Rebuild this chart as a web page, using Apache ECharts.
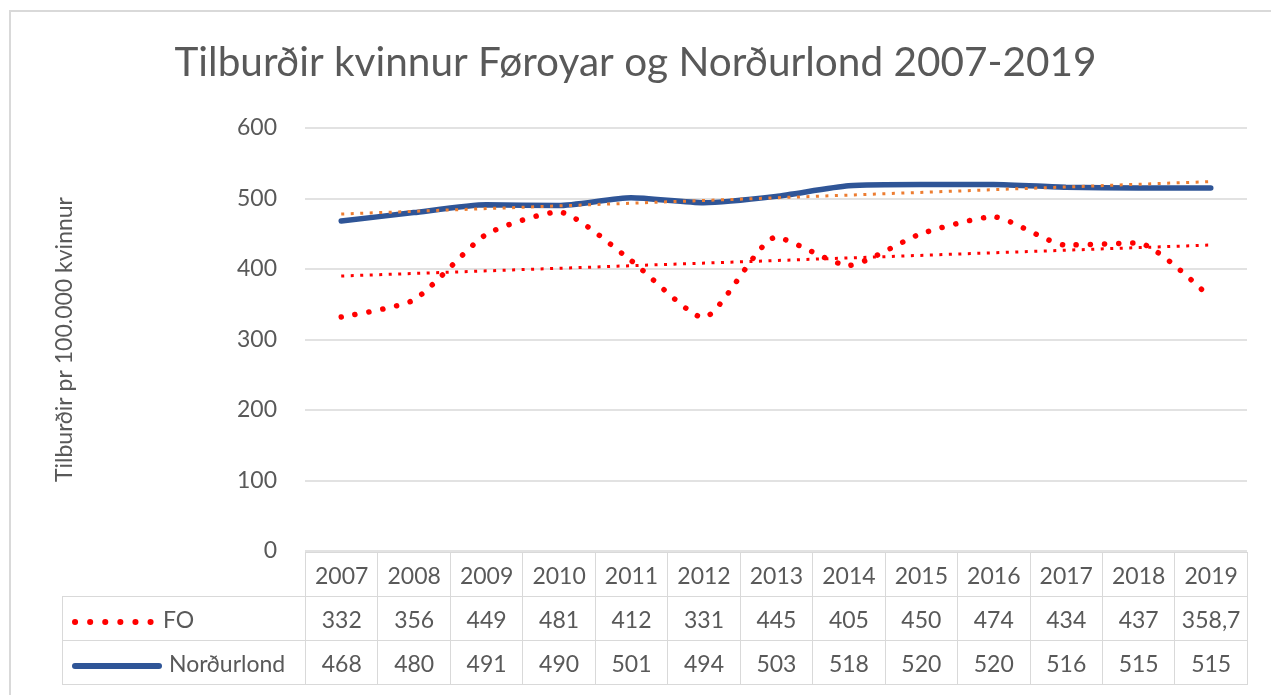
<!DOCTYPE html>
<html>
<head>
<meta charset="utf-8">
<script src="https://cdn.jsdelivr.net/npm/echarts@6/dist/echarts.min.js"></script>
<style>
  html, body { margin: 0; padding: 0; background: #fff; }
  #frame {
    position: absolute; left: 9px; top: 10px; width: 1300px; height: 720px;
    border: 2px solid #D9D9D9; box-sizing: border-box;
  }
  #myCharts { position: absolute; left: 0; top: 0; width: 1271px; height: 695px; }
  #dataTable {
    position: absolute; left: 62px; top: 552px;
    border-collapse: collapse; table-layout: fixed;
    font-family: Lato, "Open Sans", sans-serif; font-size: 23px; color: #595959;
  }
  #dataTable td {
    border: 1.5px solid #D9D9D9; height: 43px; padding: 0; line-height: 40px;
    text-align: center; white-space: nowrap; overflow: hidden;
  }
  #dataTable td.head { text-align: left; padding-left: 8px; }
  #dataTable td.blank { border-top: none; border-left: none; }
  .key { display: inline-block; vertical-align: middle; margin-right: 6px; }
</style>
</head>
<body>
<div id="frame"></div>
<div id="myCharts"></div>
<table id="dataTable"></table>
<script>
  // data
  var years = ['2007', '2008', '2009', '2010', '2011', '2012', '2013', '2014', '2015', '2016', '2017', '2018', '2019'];
  var foValues = [332, 356, 449, 481, 412, 331, 445, 405, 450, 474, 434, 437, 358.7];
  var nordValues = [468, 480, 491, 490, 501, 494, 503, 518, 520, 520, 516, 515, 515];
  // trend line ends (2007, 2019)
  var foTrendEnds = [390, 434];
  var nordTrendEnds = [478, 524];
  var yTicks = [0, 100, 200, 300, 400, 500, 600];

  var textColor = '#595959';
  var fontFamily = 'Lato, "Open Sans", sans-serif';

  function endsToSeries(ends) {
    return years.map(function (y, i) {
      if (i === 0) return ends[0];
      if (i === years.length - 1) return ends[1];
      return null;
    });
  }

  var options = {
    animation: false,
    title: {
      text: 'Tilburðir kvinnur Føroyar og Norðurlond 2007-2019',
      left: 'center',
      top: 37,
      textStyle: { fontFamily: fontFamily, fontSize: 40.5, fontWeight: 'normal', color: textColor }
    },
    grid: { left: 305, right: 24, top: 128, bottom: 144 },
    xAxis: {
      type: 'category',
      data: years,
      boundaryGap: true,
      axisLine: { show: false },
      axisTick: { show: false },
      axisLabel: { show: false }
    },
    yAxis: {
      type: 'value',
      min: yTicks[0],
      max: yTicks[yTicks.length - 1],
      interval: 100,
      name: 'Tilburðir pr 100.000 kvinnur',
      nameLocation: 'middle',
      nameGap: 229,
      nameTextStyle: { fontFamily: fontFamily, fontSize: 23, color: textColor },
      axisLine: { show: false },
      axisTick: { show: false },
      axisLabel: { fontFamily: fontFamily, fontSize: 23, color: textColor, margin: 28 },
      splitLine: { lineStyle: { color: '#D9D9D9', width: 1.5 } }
    },
    series: [
      {
        name: 'FO',
        type: 'line',
        data: foValues,
        smooth: 0.2,
        showSymbol: false,
        lineStyle: { color: '#FF0000', width: 5.5, type: [0.1, 14], cap: 'round' }
      },
      {
        name: 'Norðurlond',
        type: 'line',
        data: nordValues,
        smooth: 0.2,
        showSymbol: false,
        lineStyle: { color: '#2F5597', width: 5.5, cap: 'round' }
      },
      {
        name: 'FO trend',
        type: 'line',
        data: endsToSeries(foTrendEnds),
        connectNulls: true,
        showSymbol: false,
        lineStyle: { color: '#FF0000', width: 3, type: [3, 6.5] }
      },
      {
        name: 'Norðurlond trend',
        type: 'line',
        data: endsToSeries(nordTrendEnds),
        connectNulls: true,
        showSymbol: false,
        lineStyle: { color: '#ED7D31', width: 3, type: [3, 6.5] }
      }
    ]
  };

  var myCharts = echarts.init(document.getElementById('myCharts'));
  myCharts.setOption(options);

  // data table under the plot
  var colW = (1247 - 305) / years.length;
  var fmt = function (v) { return String(v).replace('.', ','); };
  var dotKey = '<svg class="key" width="86" height="10"><line x1="4" y1="5" x2="80" y2="5" stroke="#FF0000" stroke-width="6" stroke-linecap="round" stroke-dasharray="0.1 15"/></svg>';
  var lineKey = '<svg class="key" width="92" height="10"><line x1="4" y1="5" x2="88" y2="5" stroke="#2F5597" stroke-width="6" stroke-linecap="round"/></svg>';

  var html = '<colgroup><col style="width:243px">';
  years.forEach(function () { html += '<col style="width:' + colW + 'px">'; });
  html += '</colgroup>';
  html += '<tr><td class="blank"></td>' + years.map(function (y) { return '<td>' + y + '</td>'; }).join('') + '</tr>';
  html += '<tr><td class="head">' + dotKey + 'FO</td>' + foValues.map(function (v) { return '<td>' + fmt(v) + '</td>'; }).join('') + '</tr>';
  html += '<tr><td class="head">' + lineKey + 'Norðurlond</td>' + nordValues.map(function (v) { return '<td>' + fmt(v) + '</td>'; }).join('') + '</tr>';
  var table = document.getElementById('dataTable');
  table.innerHTML = html;
  table.style.width = (243 + colW * years.length) + 'px';
</script>
</body>
</html>
